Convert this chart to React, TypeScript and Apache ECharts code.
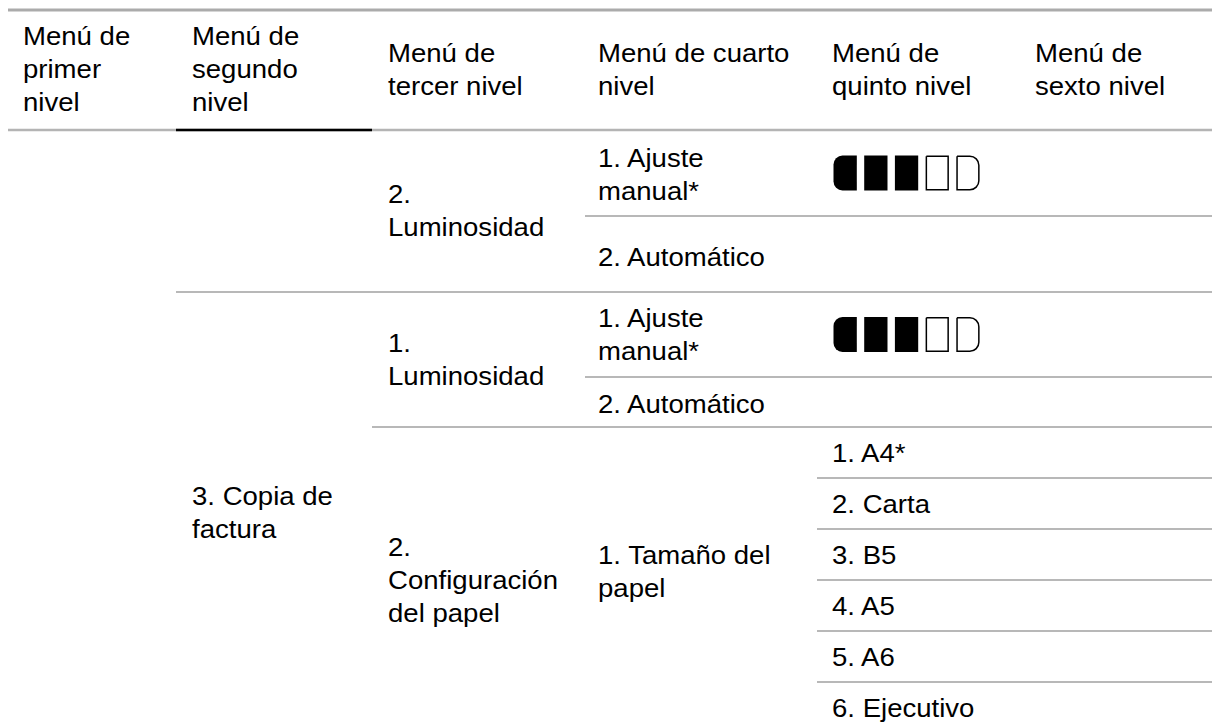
import React, { useEffect, useRef } from "react";
import * as echarts from "echarts";

// ---- content ----
const headers: string[][] = [
  ["Menú de", "primer", "nivel"],
  ["Menú de", "segundo", "nivel"],
  ["Menú de", "tercer nivel"],
  ["Menú de cuarto", "nivel"],
  ["Menú de", "quinto nivel"],
  ["Menú de", "sexto nivel"],
];
const level2Item: string[] = ["3. Copia de", "factura"];
const level3Items: string[][] = [
  ["2.", "Luminosidad"],
  ["1.", "Luminosidad"],
  ["2.", "Configuración", "del papel"],
];
const brightnessOptions: string[][] = [["1. Ajuste", "manual*"], ["2. Automático"]];
const paperSetting: string[] = ["1. Tamaño del", "papel"];
const paperSizes: string[] = ["1. A4*", "2. Carta", "3. B5", "4. A5", "5. A6", "6. Ejecutivo"];
const brightnessSteps = 5;
const brightnessFilled = 3;

// ---- layout ----
const W = 1212;
const H = 727;
const colX = [8, 176, 372, 585, 817, 1019];
const textPad = [15, 16, 16, 13, 15, 16];
const rightX = 1212;
const topY = 10;
const headY = 130;
const group1Rows = [130, 216, 292];
const group2Rows = [292, 377, 427];
const paperTop = 427;
const paperRowH = 51;
const lineH = 33;
const SX = 1.06;
const GRAY = "#b8b8b8";

function textLines(col: number, top: number, bottom: number, lines: string[], offset = 1): any[] {
  const c = (top + bottom) / 2 + offset;
  const start = c - ((lines.length - 1) * lineH) / 2;
  return lines.map((t, i) => ({
    type: "text",
    x: colX[col] + textPad[col],
    y: start + i * lineH,
    scaleX: SX,
    silent: true,
    style: {
      text: t,
      fill: "#000",
      fontSize: 26,
      fontFamily: "Liberation Sans",
      textAlign: "left",
      align: "left",
      textVerticalAlign: "middle",
      verticalAlign: "middle",
    },
  }));
}

function hLine(x1: number, x2: number, y: number, color = GRAY, w = 2): any {
  return {
    type: "line",
    silent: true,
    shape: { x1, y1: y, x2, y2: y },
    style: { stroke: color, lineWidth: w },
  };
}

function battery(top: number, bottom: number): any[] {
  const segW = 23.3;
  const pitch = 30.7;
  const h = 35;
  const y = (top + bottom) / 2 - h / 2;
  const x0 = 833.5;
  const out: any[] = [];
  for (let i = 0; i < brightnessSteps; i++) {
    const filled = i < brightnessFilled;
    let r: number[] = [0, 0, 0, 0];
    if (i === 0) r = [9, 0, 0, 9];
    if (i === brightnessSteps - 1) r = [0, 9, 9, 0];
    out.push({
      type: "rect",
      silent: true,
      shape: filled
        ? { x: x0 + i * pitch, y, width: segW, height: h, r }
        : { x: x0 + i * pitch + 0.75, y: y + 0.75, width: segW - 1.5, height: h - 1.5, r },
      style: filled
        ? { fill: "#000", stroke: null }
        : { fill: "#fff", stroke: "#000", lineWidth: 1.5 },
    });
  }
  return out;
}

export default function App() {
  const ref = useRef<HTMLDivElement>(null);
  useEffect(() => {
    document.body.style.margin = "0";
    if (!ref.current) return;
    const chart = echarts.init(ref.current, undefined, { renderer: "svg", width: W, height: H });
    const els: any[] = [];

    // background
    els.push({ type: "rect", silent: true, shape: { x: 0, y: 0, width: W, height: H }, style: { fill: "#fff" } });

    // header rule lines
    els.push(hLine(colX[0], rightX, topY, "#ababab", 3));
    els.push(hLine(colX[0], rightX, headY, "#b4b4b4", 2.5));
    els.push(hLine(colX[1], colX[2], headY, "#000", 2.5));

    // header texts
    headers.forEach((lines, i) => {
      els.push(...textLines(i, topY, headY, lines, lines.length === 3 ? -0.5 : 0));
    });

    // body lines
    els.push(hLine(colX[3], rightX, group1Rows[1]));
    els.push(hLine(colX[1], rightX, group1Rows[2]));
    els.push(hLine(colX[3], rightX, group2Rows[1]));
    els.push(hLine(colX[2], rightX, group2Rows[2]));
    for (let i = 1; i < paperSizes.length; i++) {
      els.push(hLine(colX[4], rightX, paperTop + i * paperRowH));
    }
    const paperBottom = paperTop + paperSizes.length * paperRowH;

    // level 2
    els.push(...textLines(1, group1Rows[2], paperBottom, level2Item, 0));

    // level 3
    els.push(...textLines(2, group1Rows[0], group1Rows[2], level3Items[0], 0));
    els.push(...textLines(2, group2Rows[0], group2Rows[2], level3Items[1], 0));
    els.push(...textLines(2, paperTop, paperBottom, level3Items[2], 0));

    // level 4
    els.push(...textLines(3, group1Rows[0], group1Rows[1], brightnessOptions[0], 2));
    els.push(...textLines(3, group1Rows[1], group1Rows[2], brightnessOptions[1], 3));
    els.push(...textLines(3, group2Rows[0], group2Rows[1], brightnessOptions[0], 0));
    els.push(...textLines(3, group2Rows[1], group2Rows[2], brightnessOptions[1], 2));
    els.push(...textLines(3, paperTop, paperBottom, paperSetting, -8));

    // level 5
    els.push(...battery(group1Rows[0], group1Rows[1]));
    els.push(...battery(group2Rows[0], group2Rows[1]));
    paperSizes.forEach((p, i) => {
      els.push(...textLines(4, paperTop + i * paperRowH, paperTop + (i + 1) * paperRowH, [p], 0.5));
    });

    chart.setOption({ animation: false, graphic: { elements: els } });
    return () => chart.dispose();
  }, []);
  return <div ref={ref} style={{ width: W, height: H }} />;
}
